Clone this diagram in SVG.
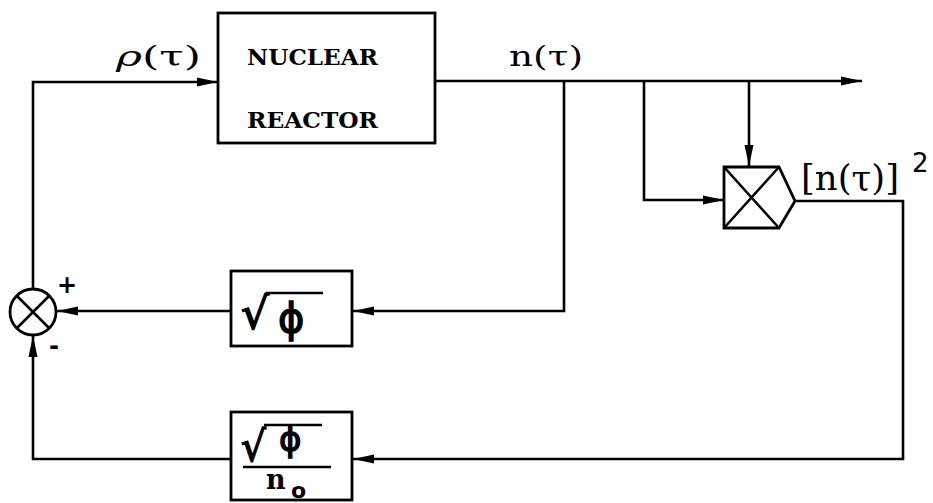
<svg xmlns="http://www.w3.org/2000/svg" width="933" height="503" viewBox="0 0 933 503">
<defs>
<style>
.ln{fill:none;stroke:#000;stroke-width:2.6;stroke-linejoin:miter}
.bx{fill:none;stroke:#000;stroke-width:2.8}
.tw{font-family:"DejaVu Serif","Liberation Serif",serif;font-weight:bold;fill:#000}
.gr{font-family:"DejaVu Serif","Liberation Serif",serif;fill:#000}
.sy{font-family:"DejaVu Sans","Liberation Sans",sans-serif;fill:#000}
.ph{font-family:"DejaVu Sans","Liberation Sans",sans-serif;fill:#000;stroke:#000;stroke-width:1.4}
</style>
<marker id="ah" markerUnits="userSpaceOnUse" markerWidth="22" markerHeight="12" refX="21" refY="6" orient="auto">
<path d="M0,1.5 L21,6 L0,10.5 z" fill="#000"/>
</marker>
</defs>
<rect width="933" height="503" fill="#fff"/>

<g id="connectors">
<path class="ln" d="M33,289 L33,82 L218,82" marker-end="url(#ah)"/>
<path class="ln" d="M435,81 L862,81" marker-end="url(#ah)"/>
<path class="ln" d="M564,81 L564,311 L353,311" marker-end="url(#ah)"/>
<path class="ln" d="M231,311 L57,311" marker-end="url(#ah)"/>
<path class="ln" d="M644,81 L644,200 L724,200" marker-end="url(#ah)"/>
<path class="ln" d="M749,81 L749,166" marker-end="url(#ah)"/>
<path class="ln" d="M795,201 L903,201 L903,459 L353,459" marker-end="url(#ah)"/>
<path class="ln" d="M231,459 L33,459 L33,336" marker-end="url(#ah)"/>
</g>

<g id="reactor">
<rect class="bx" x="218" y="13" width="217" height="130"/>
<text class="tw" x="247" y="65" font-size="22" textLength="131" lengthAdjust="spacingAndGlyphs">NUCLEAR</text>
<text class="tw" x="247" y="128" font-size="22" textLength="131" lengthAdjust="spacingAndGlyphs">REACTOR</text>
</g>

<g id="label-rho">
<text class="gr" x="116" y="66" font-size="28" textLength="85" lengthAdjust="spacingAndGlyphs"><tspan font-style="italic">ρ</tspan>(τ)</text>
</g>
<g id="label-n">
<text class="gr" x="509" y="66" font-size="28" textLength="74" lengthAdjust="spacingAndGlyphs">n(τ)</text>
</g>

<g id="multiplier">
<polygon class="bx" points="724,167 779,167 795,201 779,228 724,228"/>
<line class="ln" x1="724" y1="167" x2="779" y2="228"/>
<line class="ln" x1="724" y1="228" x2="779" y2="167"/>
</g>
<g id="label-n2">
<text class="gr" x="801" y="190" font-size="36" textLength="98" lengthAdjust="spacingAndGlyphs">[n(τ)]</text>
<text class="sy" x="912" y="172" font-size="26">2</text>
</g>

<g id="sum">
<circle class="bx" cx="33" cy="312" r="23"/>
<line class="ln" x1="17" y1="296" x2="49" y2="328"/>
<line class="ln" x1="17" y1="328" x2="49" y2="296"/>
<text class="sy" x="67" y="293" font-size="24" font-weight="bold" text-anchor="middle">+</text>
<text class="sy" x="54" y="354" font-size="24" font-weight="bold" text-anchor="middle">-</text>
</g>

<g id="sqrt-phi">
<rect class="bx" x="231" y="271" width="121" height="75"/>
<text class="ph" x="241" y="329" font-size="44" textLength="28" lengthAdjust="spacingAndGlyphs">√</text>
<line class="ln" x1="266" y1="293" x2="323" y2="293"/>
<text class="ph" x="278" y="332" font-size="40">ϕ</text>
</g>

<g id="sqrt-phi-n0">
<rect class="bx" x="231" y="412" width="121" height="88"/>
<text class="ph" x="241" y="461" font-size="42" textLength="25" lengthAdjust="spacingAndGlyphs">√</text>
<line class="ln" x1="264" y1="425" x2="322" y2="425"/>
<text class="ph" x="279" y="451" font-size="34">ϕ</text>
<line class="ln" x1="243" y1="467" x2="331" y2="467"/>
<text class="tw" x="266" y="489" font-size="27">n</text>
<text class="sy" x="291" y="498" font-size="22" font-weight="bold">o</text>
</g>
</svg>
